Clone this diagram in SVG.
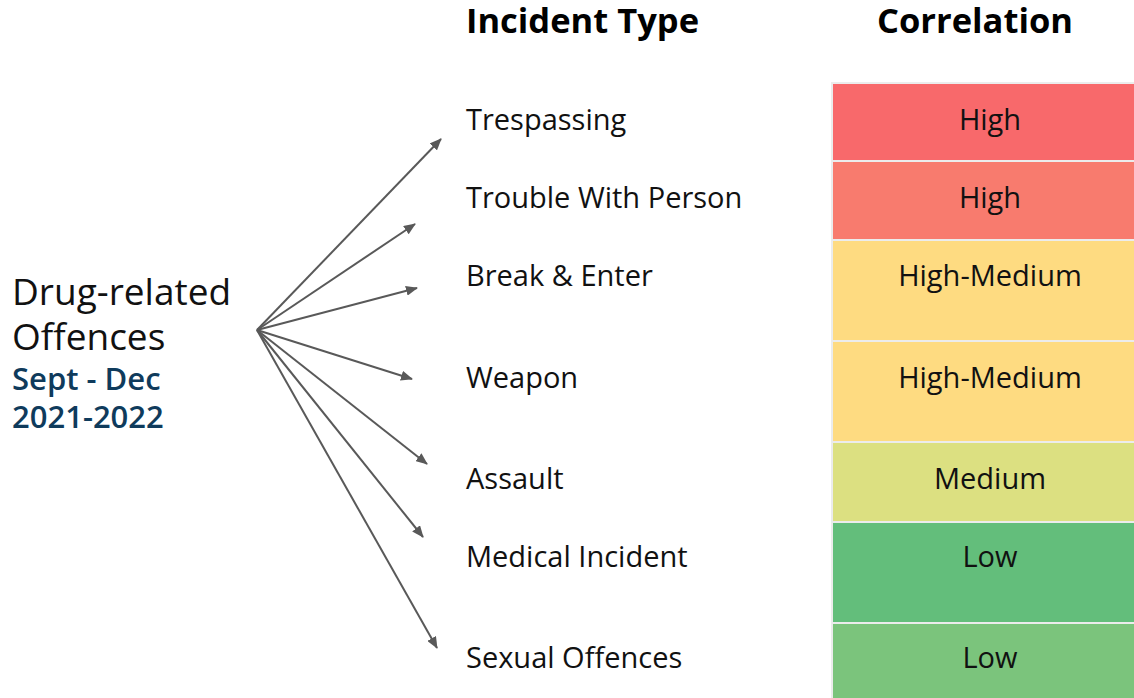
<svg xmlns="http://www.w3.org/2000/svg" width="1134" height="698" viewBox="0 0 1134 698">
<style>
text{font-family:"Open Sans","Noto Sans","Liberation Sans",sans-serif;fill:#111}
.hd{font-size:34.5px;font-weight:bold;fill:#000}
.lbl{font-size:29px}
.cv{font-size:29px;text-anchor:middle}
.sub{font-size:31px;font-weight:600;fill:#0f3b5c}
.conn line{stroke:#595959;stroke-width:2;marker-end:url(#ah)}
</style>
<defs>
<marker id="ah" viewBox="0 0 12 10" refX="11" refY="5" markerWidth="12" markerHeight="10" markerUnits="userSpaceOnUse" orient="auto">
<path d="M0,0 L12,5 L0,10 z" fill="#595959"/>
</marker>
</defs>
<rect width="1134" height="698" fill="#fff"/>
<text class="hd" x="466" y="33">Incident Type</text>
<text class="hd" x="975" y="33" text-anchor="middle">Correlation</text>
<g id="source">
<text x="12" y="305" font-size="37">Drug-related</text>
<text x="12" y="350" font-size="37">Offences</text>
<text class="sub" x="12" y="390">Sept - Dec</text>
<text class="sub" x="12" y="428">2021-2022</text>
</g>
<rect x="831" y="82" width="303" height="616" fill="#ececec"/>
<g id="row1"><rect x="833" y="84" width="301" height="76" fill="#f8696b"/><text class="lbl" x="466" y="130">Trespassing</text><text class="cv" x="990" y="130">High</text></g>
<g id="row2"><rect x="833" y="162" width="301" height="77" fill="#f87b6e"/><text class="lbl" x="466" y="208">Trouble With Person</text><text class="cv" x="990" y="208">High</text></g>
<g id="row3"><rect x="833" y="241" width="301" height="99" fill="#fedb81"/><text class="lbl" x="466" y="286">Break &amp; Enter</text><text class="cv" x="990" y="286">High-Medium</text></g>
<g id="row4"><rect x="833" y="342" width="301" height="99" fill="#fedb81"/><text class="lbl" x="466" y="388">Weapon</text><text class="cv" x="990" y="388">High-Medium</text></g>
<g id="row5"><rect x="833" y="443" width="301" height="78" fill="#dce081"/><text class="lbl" x="466" y="489">Assault</text><text class="cv" x="990" y="489">Medium</text></g>
<g id="row6"><rect x="833" y="523" width="301" height="99" fill="#63be7b"/><text class="lbl" x="466" y="567">Medical Incident</text><text class="cv" x="990" y="567">Low</text></g>
<g id="row7"><rect x="833" y="624" width="301" height="74" fill="#7bc47c"/><text class="lbl" x="466" y="668">Sexual Offences</text><text class="cv" x="990" y="668">Low</text></g>
<g class="conn" id="connectors">
<line x1="257" y1="330" x2="441" y2="139"/>
<line x1="257" y1="330" x2="415" y2="224"/>
<line x1="257" y1="330" x2="417" y2="288"/>
<line x1="257" y1="330" x2="412" y2="379"/>
<line x1="257" y1="330" x2="427" y2="464"/>
<line x1="257" y1="330" x2="423" y2="537"/>
<line x1="257" y1="330" x2="437" y2="648"/>
</g>
</svg>
